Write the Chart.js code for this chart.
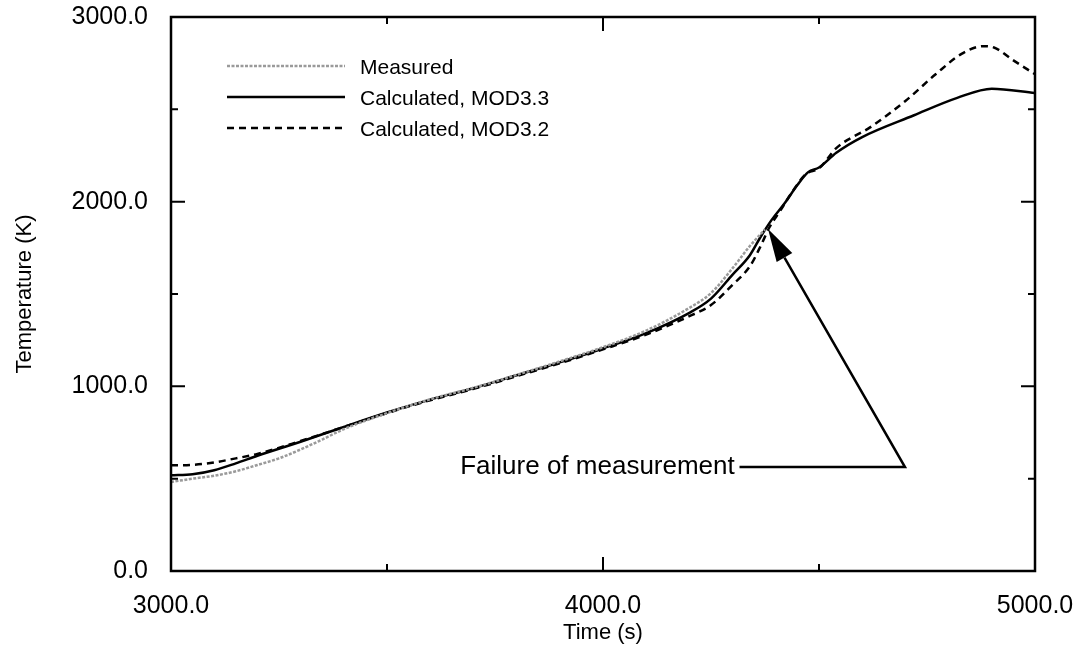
<!DOCTYPE html>
<html>
<head>
<meta charset="utf-8">
<title>Temperature history</title>
<script src="https://cdn.jsdelivr.net/npm/chart.js@4.4.1/dist/chart.umd.min.js"></script>
<style>
  html, body { margin: 0; padding: 0; background: #ffffff; }
  #wrap { position: relative; width: 1077px; height: 647px; }
</style>
</head>
<body>
<div id="wrap"><canvas id="chart" width="1077" height="647"></canvas></div>
<script>
// Measured thermocouple temperature (ends at the instrument failure)
const measuredTime = [3000, 3050, 3100, 3150, 3200, 3250, 3300, 3350, 3400, 3500, 3600, 3700, 3800, 3900, 4000, 4100, 4200, 4250, 4300, 4340, 4375];
const measuredTemp = [482, 500, 516, 540, 574, 610, 658, 712, 768, 855, 930, 992, 1062, 1135, 1212, 1302, 1425, 1505, 1640, 1760, 1850];

// RELAP5/SCDAP MOD3.3 calculation
const mod33Time = [3000, 3050, 3100, 3150, 3200, 3300, 3400, 3500, 3600, 3700, 3800, 3900, 4000, 4100, 4200, 4250, 4300, 4340, 4365, 4390, 4420, 4450, 4475, 4500, 4540, 4600, 4720, 4820, 4900, 5000];
const mod33Temp = [518, 524, 546, 583, 624, 700, 780, 858, 928, 990, 1060, 1130, 1205, 1288, 1398, 1475, 1605, 1710, 1810, 1900, 1990, 2090, 2160, 2185, 2265, 2350, 2468, 2562, 2612, 2588];

// RELAP5/SCDAP MOD3.2 calculation
const mod32Time = [3000, 3050, 3100, 3150, 3200, 3300, 3400, 3500, 3600, 3700, 3800, 3900, 4000, 4100, 4200, 4250, 4300, 4340, 4365, 4385, 4410, 4440, 4470, 4500, 4540, 4620, 4700, 4770, 4830, 4880, 4905, 4950, 5000];
const mod32Temp = [572, 575, 588, 610, 634, 704, 780, 855, 925, 986, 1055, 1125, 1200, 1280, 1380, 1440, 1550, 1650, 1760, 1860, 1950, 2060, 2150, 2180, 2290, 2405, 2545, 2690, 2800, 2842, 2835, 2765, 2690];

// Axis tick values
const xMajorTicks = [3000, 4000, 5000];
const xMinorTicks = [3500, 4500];
const yMajorTicks = [0, 1000, 2000, 3000];
const yMinorTicks = [500, 1500, 2500];

// Annotation: text anchor, elbow of the leader line and arrow tip (data units)
const noteText = 'Failure of measurement';
const noteTextAt = [4305, 525];
const noteLineStart = [4316, 563];
const noteElbow = [4699, 563];
const noteArrowTip = [4382, 1852];

const FONT = "'Liberation Sans', Arial, Helvetica, sans-serif";

const toPoints = (xs, ys) => xs.map((x, i) => ({ x: x, y: ys[i] }));

// Tick labels may overhang the plot edges without shrinking the plot
const noOverhang = s => {
  s.paddingTop = 0; s.paddingBottom = 0; s.paddingLeft = 0; s.paddingRight = 0;
};

// Legend drawn inside the plot frame, in the upper-left corner
const insideLegend = {
  id: 'insideLegend',
  afterDatasetsDraw(chart) {
    const ctx = chart.ctx;
    const rows = [66, 97, 128];
    ctx.save();
    chart.data.datasets.forEach((ds, i) => {
      const y = rows[i];
      ctx.beginPath();
      ctx.strokeStyle = ds.borderColor;
      ctx.lineWidth = ds.borderWidth;
      ctx.setLineDash(ds.borderDash || []);
      ctx.moveTo(227, y);
      ctx.lineTo(345, y);
      ctx.stroke();
      ctx.setLineDash([]);
      ctx.fillStyle = '#000';
      ctx.font = '21px ' + FONT;
      ctx.textAlign = 'left';
      ctx.textBaseline = 'middle';
      ctx.fillText(ds.label, 360, y + 2);
    });
    ctx.restore();
  }
};

// Closed plot frame with inward ticks on all four sides
const frameTicks = {
  id: 'frameTicks',
  afterDraw(chart) {
    const { ctx, chartArea: a, scales } = chart;
    const xs = scales.x, ys = scales.y;
    ctx.save();
    ctx.strokeStyle = '#000';
    ctx.lineWidth = 2.5;
    ctx.strokeRect(a.left, a.top, a.right - a.left, a.bottom - a.top);
    ctx.lineWidth = 2;
    const xTick = (v, len) => {
      const px = xs.getPixelForValue(v);
      ctx.beginPath();
      ctx.moveTo(px, a.bottom); ctx.lineTo(px, a.bottom - len);
      ctx.moveTo(px, a.top); ctx.lineTo(px, a.top + len);
      ctx.stroke();
    };
    const yTick = (v, len) => {
      const py = ys.getPixelForValue(v);
      ctx.beginPath();
      ctx.moveTo(a.left, py); ctx.lineTo(a.left + len, py);
      ctx.moveTo(a.right, py); ctx.lineTo(a.right - len, py);
      ctx.stroke();
    };
    xMajorTicks.forEach(v => xTick(v, 14));
    xMinorTicks.forEach(v => xTick(v, 7));
    yMajorTicks.forEach(v => yTick(v, 14));
    yMinorTicks.forEach(v => yTick(v, 7));
    ctx.restore();
  }
};

// "Failure of measurement" note with leader line and arrow
const failureNote = {
  id: 'failureNote',
  afterDatasetsDraw(chart) {
    const { ctx, scales } = chart;
    const P = p => [scales.x.getPixelForValue(p[0]), scales.y.getPixelForValue(p[1])];
    const t = P(noteTextAt), s = P(noteLineStart), e = P(noteElbow), tip = P(noteArrowTip);
    ctx.save();
    ctx.fillStyle = '#000';
    ctx.font = '26px ' + FONT;
    ctx.textAlign = 'right';
    ctx.textBaseline = 'alphabetic';
    ctx.fillText(noteText, t[0], t[1]);

    const dx = tip[0] - e[0], dy = tip[1] - e[1];
    const len = Math.hypot(dx, dy);
    const ux = dx / len, uy = dy / len;
    const headLen = 33, halfW = 9;
    const bx = tip[0] - ux * headLen, by = tip[1] - uy * headLen;

    ctx.strokeStyle = '#000';
    ctx.lineWidth = 2.5;
    ctx.beginPath();
    ctx.moveTo(s[0], s[1]);
    ctx.lineTo(e[0], e[1]);
    ctx.lineTo(bx, by);
    ctx.stroke();

    ctx.beginPath();
    ctx.moveTo(tip[0], tip[1]);
    ctx.lineTo(bx - uy * halfW, by + ux * halfW);
    ctx.lineTo(bx + uy * halfW, by - ux * halfW);
    ctx.closePath();
    ctx.fill();
    ctx.restore();
  }
};

new Chart(document.getElementById('chart'), {
  type: 'line',
  data: {
    datasets: [
      {
        label: 'Measured',
        data: toPoints(measuredTime, measuredTemp),
        borderColor: '#9a9a9a',
        borderWidth: 2.5,
        borderDash: [3, 1.5],
        pointRadius: 0,
        cubicInterpolationMode: 'monotone',
        fill: false
      },
      {
        label: 'Calculated, MOD3.3',
        data: toPoints(mod33Time, mod33Temp),
        borderColor: '#000000',
        borderWidth: 2.5,
        pointRadius: 0,
        cubicInterpolationMode: 'monotone',
        fill: false
      },
      {
        label: 'Calculated, MOD3.2',
        data: toPoints(mod32Time, mod32Temp),
        borderColor: '#000000',
        borderWidth: 2.5,
        borderDash: [7, 5],
        pointRadius: 0,
        cubicInterpolationMode: 'monotone',
        fill: false
      }
    ]
  },
  options: {
    responsive: false,
    animation: false,
    devicePixelRatio: 1,
    layout: { padding: { top: 17, right: 42, bottom: 0, left: 0 } },
    plugins: {
      legend: { display: false },
      tooltip: { enabled: false }
    },
    scales: {
      x: {
        type: 'linear',
        min: 3000,
        max: 5000,
        afterBuildTicks: s => { s.ticks = xMajorTicks.map(v => ({ value: v })); },
        afterFit: s => { s.height = 76; noOverhang(s); },
        grid: { display: false, drawTicks: false },
        border: { display: false },
        ticks: {
          color: '#000',
          font: { family: FONT, size: 25 },
          padding: 20,
          maxRotation: 0,
          callback: v => Number(v).toFixed(1)
        },
        title: {
          display: true,
          text: 'Time (s)',
          color: '#000',
          font: { family: FONT, size: 22 },
          padding: { top: 0, bottom: 1 }
        }
      },
      y: {
        type: 'linear',
        min: 0,
        max: 3000,
        afterBuildTicks: s => { s.ticks = yMajorTicks.map(v => ({ value: v })); },
        afterFit: s => { s.width = 171; noOverhang(s); },
        grid: { display: false, drawTicks: false },
        border: { display: false },
        ticks: {
          color: '#000',
          font: { family: FONT, size: 25 },
          padding: 23,
          callback: v => Number(v).toFixed(1)
        },
        title: {
          display: true,
          text: 'Temperature (K)',
          color: '#000',
          font: { family: FONT, size: 22 },
          padding: { top: 12, bottom: 0 }
        }
      }
    }
  },
  plugins: [insideLegend, frameTicks, failureNote]
});
</script>
</body>
</html>
